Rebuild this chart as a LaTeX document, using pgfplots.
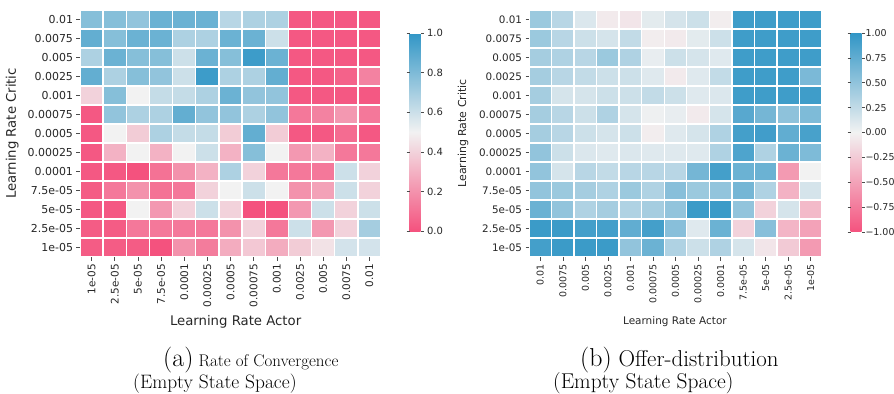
\documentclass[border=0pt]{standalone}
\usepackage{fontspec}
\usepackage{pgfplots}
\pgfplotsset{compat=1.18}
\newfontfamily\dejavu{DejaVu Sans}

\pgfplotsset{
  colormap={rosebleu}{rgb255=(244,82,126) rgb255=(242,242,242) rgb255=(49,150,198)},
  heat/.style={
    scale only axis, height=247bp,
    xmin=-0.5, xmax=12.5, ymin=-0.5, ymax=12.5,
    axis line style={draw=none},
    xtick={0,...,12}, ytick={0,...,12},
    xtick pos=left, ytick pos=left,
    tick align=outside, major tick length=3.5bp,
    tick style={color=black!70, line width=0.6bp},
    minor xtick={-0.5,0.5,...,12.5}, minor ytick={-0.5,0.5,...,12.5},
    minor tick length=0pt,
    xminorgrids, yminorgrids,
    minor grid style={white, line width=1.4bp},
    axis on top,
    x tick label style={rotate=90, anchor=east},
    ticklabel style={color=black!85},
    label style={color=black!85},
    colorbar,
  },
}

\begin{document}
\begin{tikzpicture}
\path[use as bounding box] (0,0) rectangle (894bp,-394bp);

% (a) rate of convergence, values in [0,1]
\begin{axis}[heat,
  at={(80bp,-10bp)}, anchor=north west, width=301bp,
  point meta min=0, point meta max=1,
  xticklabels={1e-05,2.5e-05,5e-05,7.5e-05,0.0001,0.00025,0.0005,0.00075,0.001,0.0025,0.005,0.0075,0.01},
  yticklabels={1e-05,2.5e-05,5e-05,7.5e-05,0.0001,0.00025,0.0005,0.00075,0.001,0.0025,0.005,0.0075,0.01},
  xticklabel style={font=\dejavu\fontsize{10.5}{10.5}\selectfont},
  yticklabel style={font=\dejavu\fontsize{11}{11}\selectfont},
  xlabel={Learning Rate Actor}, ylabel={Learning Rate Critic},
  label style={font=\dejavu\fontsize{13.3}{13.3}\selectfont},
  xlabel style={at={(axis description cs:0.517,-0.263)}, anchor=center},
  ylabel style={at={(axis description cs:-0.225,0.5)}, anchor=center},
  colorbar style={
    scale only axis, width=11bp, height=198bp,
    at={(parent axis.north east)}, anchor=north west, xshift=20bp, yshift=-23bp,
    axis line style={draw=none},
    ytick={0,0.2,0.4,0.6,0.8,1}, yticklabels={0.0,0.2,0.4,0.6,0.8,1.0},
    yticklabel style={font=\dejavu\fontsize{10}{10}\selectfont, color=black!85},
    tick align=outside, major tick length=3bp,
    tick style={color=black!70, line width=0.6bp},
  },
]
\addplot[matrix plot*, mesh/cols=13, point meta=explicit] coordinates {
(0,0)[0.03] (1,0)[0.03] (2,0)[0.03] (3,0)[0.00] (4,0)[0.20] (5,0)[0.13] (6,0)[0.28] (7,0)[0.37] (8,0)[0.28] (9,0)[0.38] (10,0)[0.45] (11,0)[0.58] (12,0)[0.58]

(0,1)[0.03] (1,1)[0.03] (2,1)[0.12] (3,1)[0.12] (4,1)[0.12] (5,1)[0.12] (6,1)[0.20] (7,1)[0.40] (8,1)[0.12] (9,1)[0.60] (10,1)[0.22] (11,1)[0.40] (12,1)[0.70]

(0,2)[0.02] (1,2)[0.02] (2,2)[0.50] (3,2)[0.22] (4,2)[0.40] (5,2)[0.60] (6,2)[0.40] (7,2)[0.00] (8,2)[0.00] (9,2)[0.22] (10,2)[0.60] (11,2)[0.40] (12,2)[0.60]

(0,3)[0.03] (1,3)[0.12] (2,3)[0.20] (3,3)[0.10] (4,3)[0.12] (5,3)[0.40] (6,3)[0.50] (7,3)[0.60] (8,3)[0.50] (9,3)[0.20] (10,3)[0.25] (11,3)[0.60] (12,3)[0.40]

(0,4)[0.02] (1,4)[0.02] (2,4)[0.00] (3,4)[0.10] (4,4)[0.20] (5,4)[0.30] (6,4)[0.68] (7,4)[0.40] (8,4)[0.12] (9,4)[0.12] (10,4)[0.12] (11,4)[0.60] (12,4)[0.40]

(0,5)[0.02] (1,5)[0.30] (2,5)[0.50] (3,5)[0.30] (4,5)[0.50] (5,5)[0.60] (6,5)[0.30] (7,5)[0.78] (8,5)[0.50] (9,5)[0.22] (10,5)[0.30] (11,5)[0.12] (12,5)[0.12]

(0,6)[0.02] (1,6)[0.50] (2,6)[0.38] (3,6)[0.68] (4,6)[0.62] (5,6)[0.62] (6,6)[0.38] (7,6)[0.87] (8,6)[0.38] (9,6)[0.02] (10,6)[0.02] (11,6)[0.08] (12,6)[0.02]

(0,7)[0.02] (1,7)[0.75] (2,7)[0.68] (3,7)[0.68] (4,7)[0.87] (5,7)[0.75] (6,7)[0.75] (7,7)[0.68] (8,7)[0.75] (9,7)[0.12] (10,7)[0.15] (11,7)[0.22] (12,7)[0.12]

(0,8)[0.40] (1,8)[0.78] (2,8)[0.50] (3,8)[0.62] (4,8)[0.62] (5,8)[0.68] (6,8)[0.85] (7,8)[0.75] (8,8)[0.75] (9,8)[0.02] (10,8)[0.02] (11,8)[0.02] (12,8)[0.02]

(0,9)[0.87] (1,9)[0.68] (2,9)[0.78] (3,9)[0.75] (4,9)[0.60] (5,9)[0.97] (6,9)[0.68] (7,9)[0.68] (8,9)[0.87] (9,9)[0.02] (10,9)[0.02] (11,9)[0.05] (12,9)[0.15]

(0,10)[0.68] (1,10)[0.85] (2,10)[0.78] (3,10)[0.78] (4,10)[0.60] (5,10)[0.85] (6,10)[0.78] (7,10)[0.97] (8,10)[0.85] (9,10)[0.02] (10,10)[0.02] (11,10)[0.02] (12,10)[0.02]

(0,11)[0.87] (1,11)[0.78] (2,11)[0.85] (3,11)[0.85] (4,11)[0.68] (5,11)[0.68] (6,11)[0.85] (7,11)[0.85] (8,11)[0.60] (9,11)[0.02] (10,11)[0.02] (11,11)[0.02] (12,11)[0.02]

(0,12)[0.78] (1,12)[0.78] (2,12)[0.75] (3,12)[0.85] (4,12)[0.85] (5,12)[0.85] (6,12)[0.65] (7,12)[0.68] (8,12)[0.68] (9,12)[0.02] (10,12)[0.02] (11,12)[0.02] (12,12)[0.02]
};
\end{axis}

% (b) offer distribution, values in [-1,1]
\begin{axis}[heat,
  at={(529bp,-10bp)}, anchor=north west, width=293bp,
  point meta min=-1, point meta max=1,
  xticklabels={0.01,0.0075,0.005,0.0025,0.001,0.00075,0.0005,0.00025,0.0001,7.5e-05,5e-05,2.5e-05,1e-05},
  yticklabels={1e-05,2.5e-05,5e-05,7.5e-05,0.0001,0.00025,0.0005,0.00075,0.001,0.0025,0.005,0.0075,0.01},
  xticklabel style={font=\dejavu\fontsize{9.5}{9.5}\selectfont},
  yticklabel style={font=\dejavu\fontsize{10.4}{10.4}\selectfont},
  xlabel={Learning Rate Actor}, ylabel={Learning Rate Critic},
  xlabel style={font=\dejavu\fontsize{10.5}{10.5}\selectfont, at={(axis description cs:0.498,-0.263)}, anchor=center},
  ylabel style={font=\dejavu\fontsize{11}{11}\selectfont, at={(axis description cs:-0.225,0.5)}, anchor=center},
  colorbar style={
    scale only axis, width=11bp, height=199bp,
    at={(parent axis.north east)}, anchor=north west, xshift=20bp, yshift=-23bp,
    axis line style={draw=none},
    ytick={-1,-0.75,-0.5,-0.25,0,0.25,0.5,0.75,1},
    yticklabels={−1.00,−0.75,−0.50,−0.25,0.00,0.25,0.50,0.75,1.00},
    yticklabel style={font=\dejavu\fontsize{9.5}{9.5}\selectfont, color=black!85, xshift=-2.5bp},
    tick align=outside, major tick length=3bp,
    tick style={color=black!70, line width=0.6bp},
  },
]
\addplot[matrix plot*, mesh/cols=13, point meta=explicit] coordinates {
(0,0)[0.90] (1,0)[0.95] (2,0)[0.95] (3,0)[0.95] (4,0)[0.50] (5,0)[0.70] (6,0)[0.35] (7,0)[0.20] (8,0)[0.35] (9,0)[0.15] (10,0)[-0.08] (11,0)[-0.25] (12,0)[-0.55]

(0,1)[0.95] (1,1)[0.95] (2,1)[0.90] (3,1)[0.90] (4,1)[0.75] (5,1)[0.90] (6,1)[0.55] (7,1)[0.10] (8,1)[0.70] (9,1)[-0.20] (10,1)[0.55] (11,1)[-0.38] (12,1)[-0.50]

(0,2)[0.70] (1,2)[0.50] (2,2)[0.35] (3,2)[0.40] (4,2)[0.35] (5,2)[0.40] (6,2)[0.50] (7,2)[0.95] (8,2)[0.95] (9,2)[0.50] (10,2)[-0.20] (11,2)[0.15] (12,2)[-0.35]

(0,3)[0.50] (1,3)[0.45] (2,3)[0.40] (3,3)[0.35] (4,3)[0.45] (5,3)[0.35] (6,3)[0.55] (7,3)[0.45] (8,3)[0.50] (9,3)[0.65] (10,3)[0.35] (11,3)[-0.40] (12,3)[0.15]

(0,4)[0.50] (1,4)[0.15] (2,4)[0.30] (3,4)[0.25] (4,4)[0.30] (5,4)[0.30] (6,4)[0.30] (7,4)[0.65] (8,4)[0.90] (9,4)[0.70] (10,4)[0.70] (11,4)[-0.55] (12,4)[0.00]

(0,5)[0.50] (1,5)[0.20] (2,5)[0.12] (3,5)[0.10] (4,5)[0.12] (5,5)[0.10] (6,5)[0.10] (7,5)[0.10] (8,5)[0.35] (9,5)[0.85] (10,5)[0.35] (11,5)[0.70] (12,5)[0.60]

(0,6)[0.40] (1,6)[0.30] (2,6)[0.20] (3,6)[0.15] (4,6)[0.20] (5,6)[-0.03] (6,6)[0.10] (7,6)[0.15] (8,6)[0.35] (9,6)[0.90] (10,6)[0.92] (11,6)[0.75] (12,6)[0.88]

(0,7)[0.40] (1,7)[0.30] (2,7)[0.20] (3,7)[0.35] (4,7)[0.15] (5,7)[0.02] (6,7)[0.05] (7,7)[-0.05] (8,7)[0.15] (9,7)[0.80] (10,7)[0.65] (11,7)[0.52] (12,7)[0.60]

(0,8)[0.40] (1,8)[0.15] (2,8)[0.15] (3,8)[0.20] (4,8)[0.20] (5,8)[0.25] (6,8)[0.20] (7,8)[0.10] (8,8)[0.12] (9,8)[0.93] (10,8)[0.93] (11,8)[0.93] (12,8)[0.93]

(0,9)[0.40] (1,9)[0.30] (2,9)[0.25] (3,9)[0.20] (4,9)[0.20] (5,9)[0.10] (6,9)[-0.05] (7,9)[0.10] (8,9)[0.25] (9,9)[0.93] (10,9)[0.93] (11,9)[0.93] (12,9)[0.62]

(0,10)[0.40] (1,10)[0.35] (2,10)[0.30] (3,10)[0.45] (4,10)[0.35] (5,10)[0.05] (6,10)[0.20] (7,10)[0.15] (8,10)[0.10] (9,10)[0.93] (10,10)[0.93] (11,10)[0.93] (12,10)[0.93]

(0,11)[0.45] (1,11)[0.30] (2,11)[0.20] (3,11)[0.15] (4,11)[0.25] (5,11)[-0.03] (6,11)[-0.05] (7,11)[0.08] (8,11)[0.20] (9,11)[0.93] (10,11)[0.93] (11,11)[0.93] (12,11)[0.93]

(0,12)[0.45] (1,12)[0.30] (2,12)[0.12] (3,12)[-0.05] (4,12)[-0.08] (5,12)[0.08] (6,12)[0.15] (7,12)[0.20] (8,12)[-0.03] (9,12)[0.93] (10,12)[0.93] (11,12)[0.93] (12,12)[0.93]
};
\end{axis}

% sub-captions
\node[anchor=base west, inner sep=0pt] at (163bp,-366bp)
  {\fontsize{26}{26}\selectfont(a)\fontsize{17}{17}\selectfont{} Rate of Convergence};
\node[anchor=base west, inner sep=0pt] at (133bp,-388bp)
  {\fontsize{19.5}{19.5}\selectfont(Empty State Space)};
\node[anchor=base west, inner sep=0pt] at (580bp,-366bp)
  {\fontsize{26}{26}\selectfont(b)\fontsize{23}{23}\selectfont{} Offer-distribution};
\node[anchor=base west, inner sep=0pt] at (553bp,-388bp)
  {\fontsize{21.5}{21.5}\selectfont(Empty State Space)};
\end{tikzpicture}
\end{document}
